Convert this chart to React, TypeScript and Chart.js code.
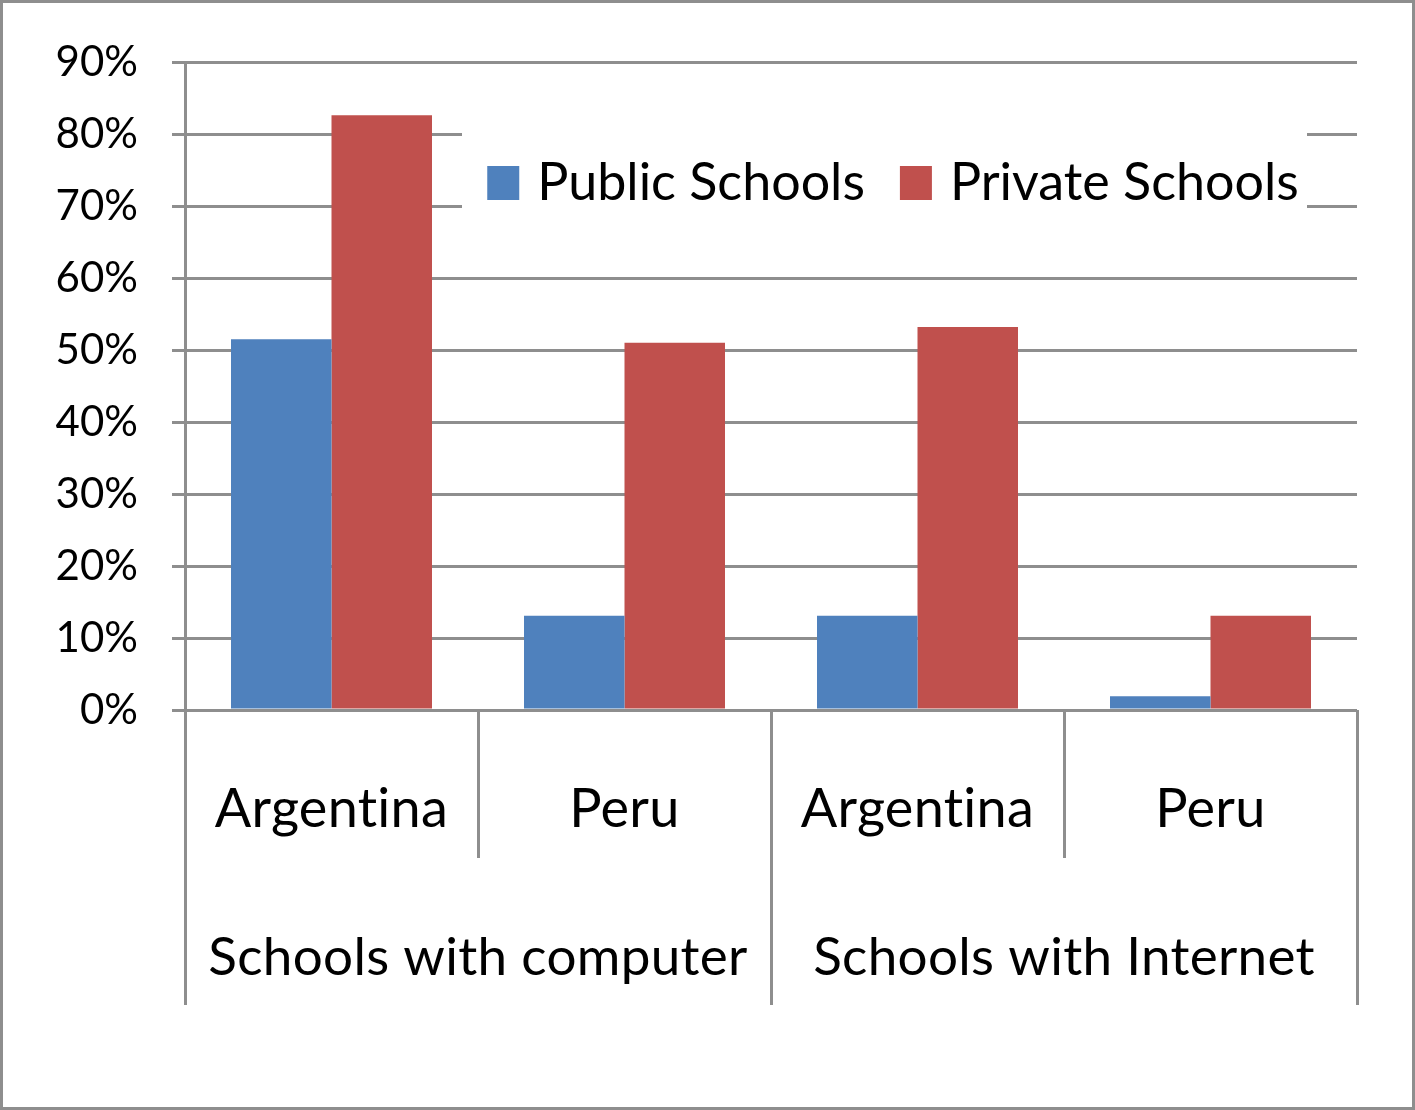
import React, { useEffect, useRef } from 'react';
import { Chart, registerables } from 'chart.js';

Chart.register(...registerables);

const categories = ['Argentina', 'Peru', 'Argentina', 'Peru'];
const groups = ['Schools with computer', 'Schools with Internet'];
const groupSizes = [2, 2];
const seriesNames = ['Public Schools', 'Private Schools'];
const publicSchools = [51.5, 13.1, 13.1, 1.9];
const privateSchools = [82.6, 51.0, 53.2, 13.1];
const yMin = 0;
const yMax = 90;
const yStep = 10;

const FONT = 'Lato, "Open Sans", sans-serif';
const GRAY = '#8e8e8e';
const BLUE = '#4F81BD';
const RED = '#C0504D';

const decorPlugin = {
  id: 'decor',
  afterDraw(chart: any) {
    const ctx = chart.ctx as CanvasRenderingContext2D;
    const area = chart.chartArea;
    const n = categories.length;
    const catW = (area.right - area.left) / n;
    ctx.save();
    try {
      (ctx as any).letterSpacing = '0.3px';
    } catch (e) {}
    // separators
    const boundaries = new Set<number>();
    let acc = 0;
    boundaries.add(0);
    groupSizes.forEach((s) => {
      acc += s;
      boundaries.add(acc);
    });
    ctx.strokeStyle = GRAY;
    ctx.lineWidth = 3;
    for (let i = 0; i <= n; i++) {
      const x = Math.round(area.left + i * catW) + 0.5;
      const long = boundaries.has(i);
      ctx.beginPath();
      ctx.moveTo(x, area.bottom);
      ctx.lineTo(x, area.bottom + (long ? 295 : 148));
      ctx.stroke();
    }
    // category labels
    ctx.fillStyle = '#000';
    ctx.textAlign = 'center';
    ctx.textBaseline = 'middle';
    ctx.font = `54px ${FONT}`;
    categories.forEach((c, i) => {
      const x = chart.scales.x.getPixelForValue(i);
      ctx.fillText(c, x, area.bottom + 100);
    });
    // group labels
    ctx.font = `53px ${FONT}`;
    let start = 0;
    groups.forEach((g, gi) => {
      const x0 = area.left + start * catW;
      const x1 = area.left + (start + groupSizes[gi]) * catW;
      ctx.fillText(g, (x0 + x1) / 2, area.bottom + 248);
      start += groupSizes[gi];
    });
    // legend
    (ctx as any).letterSpacing = '0px';
    ctx.fillStyle = '#fff';
    ctx.fillRect(462, 124, 845, 90);
    ctx.font = `52px ${FONT}`;
    ctx.textAlign = 'left';
    const box = 32;
    const gapText = 18;
    const gapItem = 35;
    const widths = seriesNames.map((s) => ctx.measureText(s).width);
    const total = widths.reduce((a, w) => a + box + gapText + w, 0) + gapItem * (seriesNames.length - 1);
    let lx = 893 - total / 2;
    const ly = 183;
    chart.data.datasets.forEach((ds: any, i: number) => {
      ctx.fillStyle = ds.backgroundColor;
      ctx.fillRect(lx, ly - 17, box, 34);
      lx += box + gapText;
      ctx.fillStyle = '#000';
      ctx.fillText(ds.label, lx, ly);
      lx += widths[i] + gapItem;
    });
    // outer border
    ctx.strokeStyle = GRAY;
    ctx.lineWidth = 3;
    ctx.strokeRect(1.5, 1.5, chart.width - 3, chart.height - 3);
    ctx.restore();
  },
};

export default function App() {
  const ref = useRef<HTMLCanvasElement>(null);
  useEffect(() => {
    document.body.style.margin = '0';
    const chart = new Chart(ref.current!, {
      type: 'bar',
      data: {
        labels: categories,
        datasets: [
          { label: seriesNames[0], data: publicSchools, backgroundColor: BLUE, borderWidth: 0 },
          { label: seriesNames[1], data: privateSchools, backgroundColor: RED, borderWidth: 0 },
        ],
      },
      options: {
        responsive: false,
        animation: false,
        events: [],
        layout: { padding: { top: 62, right: 58, left: 0, bottom: 0 } },
        plugins: { legend: { display: false }, tooltip: { enabled: false } },
        datasets: { bar: { categoryPercentage: 0.686, barPercentage: 1 } },
        scales: {
          x: {
            ticks: { display: false },
            grid: { display: false },
            border: { display: false },
            afterFit: (s: any) => {
              s.height = 400;
            },
          },
          y: {
            min: yMin,
            max: yMax,
            ticks: {
              stepSize: yStep,
              padding: 34,
              color: '#000',
              font: { family: FONT, size: 42 },
              callback: (v: any) => `${v}%`,
            },
            grid: { color: GRAY, lineWidth: 3, tickLength: 13, drawTicks: true },
            border: { display: true, color: GRAY, width: 3 },
            afterFit: (s: any) => {
              s.width = 185;
            },
          },
        },
      },
      plugins: [decorPlugin],
    });
    return () => chart.destroy();
  }, []);
  return (
    <div style={{ width: 1415, height: 1110 }}>
      <canvas ref={ref} width={1415} height={1110} style={{ display: 'block' }} />
    </div>
  );
}
